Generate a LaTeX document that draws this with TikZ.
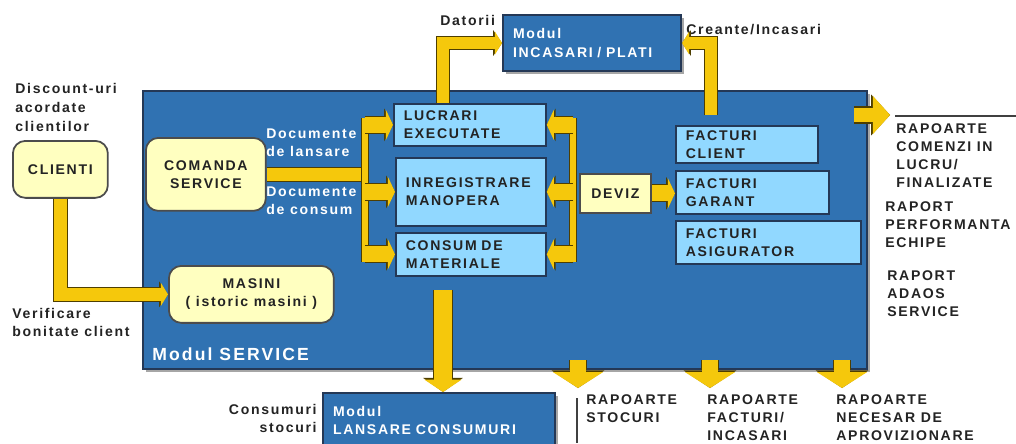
\documentclass[tikz,border=0pt]{standalone}
\usepackage{fontspec}
\setmainfont{Liberation Sans}[LetterSpace=12]
\usepackage{tikz}
\usetikzlibrary{arrows.meta,calc,shadows}

\definecolor{srvblue}{RGB}{48,114,178}
\definecolor{srvline}{RGB}{36,56,86}
\definecolor{boxblue}{RGB}{145,216,255}
\definecolor{boxyellow}{RGB}{255,255,192}
\definecolor{flowyellow}{RGB}{245,200,12}
\definecolor{flowline}{RGB}{78,62,0}
\definecolor{txtdark}{RGB}{35,35,35}

\tikzset{
  module/.style={draw=srvline, line width=1.2pt, fill=srvblue, anchor=north west,
    drop shadow={shadow xshift=1.6pt, shadow yshift=-1.6pt, opacity=1, fill=black!35}},
  modtxt/.style={text=white, align=left, inner xsep=0.2cm, inner ysep=1pt,
    font=\bfseries\fontsize{8}{10.3}\selectfont},
  lbox/.style={draw=srvline, line width=1pt, fill=boxblue, anchor=north west,
    inner xsep=0.2cm, inner ysep=1pt, align=left, text=txtdark,
    font=\bfseries\fontsize{8}{10.3}\selectfont},
  rbox/.style={draw=black!70, line width=1pt, fill=boxyellow, rounded corners=0.25cm,
    anchor=north west, align=center, text=txtdark,
    font=\bfseries\fontsize{8}{10.3}\selectfont},
  txt/.style={anchor=north west, align=left, inner sep=0pt, text=txtdark,
    font=\bfseries\fontsize{8}{10.3}\selectfont},
  wtxt/.style={txt, text=white},
  bus/.style={draw=flowyellow, line width=#1, preaction={draw=flowline, line width=#1+1.2pt}},
  flow/.style n args={5}{draw=flowyellow, line width=#1,
    -{Triangle[width=#2, length=#3, line width=0pt]},
    preaction={draw=flowline, line width=#1+1.2pt,
      -{Triangle[width=#4, length=#5, line width=0pt]}}},
  smallflow/.style={flow={9pt}{17pt}{4pt}{18.6pt}{5pt}},
  lflow/.style={flow={7pt}{13pt}{4pt}{14.6pt}{5pt}},
  bigflow/.style={flow={10.5pt}{21pt}{7pt}{22.6pt}{8pt}},
  outflow/.style={flow={8.5pt}{21.6pt}{9.7pt}{23.2pt}{10.7pt}},
  downflow/.style={flow={9pt}{28.4pt}{9pt}{30pt}{10pt}},
  sepline/.style={draw=black!75, line width=1.3pt}
}

\begin{document}
\begin{tikzpicture}[x=0.02cm, y=-0.02cm]
\useasboundingbox (0,0) rectangle (1016,443);

% modules
\node[module, minimum width=14.48cm, minimum height=5.56cm] (service) at (142,90) {};
\node[modtxt, anchor=west, font=\bfseries\fontsize{10}{12}\selectfont] (servicelbl) at (142,354) {Modul SERVICE};
\node[module, modtxt, minimum width=3.56cm, minimum height=1.12cm, text width=3.16cm] (incasari) at (502,14) {Modul\\INCASARI / PLATI};
\node[module, modtxt, minimum width=4.64cm, minimum height=1.08cm, text width=4.24cm] (lansare) at (322,392) {Modul\\LANSARE CONSUMURI};

% boxes
\node[rbox, minimum width=1.9cm, minimum height=1.14cm] (clienti) at (12,140) {CLIENTI};
\node[rbox, minimum width=2.4cm, minimum height=1.46cm] (comanda) at (145,137) {COMANDA\\SERVICE};
\node[rbox, minimum width=3.3cm, minimum height=1.14cm] (masini) at (168,265) {MASINI\\( istoric masini )};
\node[rbox, rounded corners=0pt, minimum width=1.42cm, minimum height=0.78cm] (deviz) at (579,173) {DEVIZ};
\node[lbox, minimum height=0.84cm, text width=2.64cm] (lucrari) at (393,103) {LUCRARI\\EXECUTATE};
\node[lbox, minimum height=1.36cm, text width=2.6cm] (manopera) at (395,157) {INREGISTRARE\\MANOPERA};
\node[lbox, minimum height=0.86cm, text width=2.6cm] (consum) at (395,232) {CONSUM DE\\MATERIALE};
\node[lbox, minimum height=0.74cm, text width=2.44cm] (fclient) at (675,125) {FACTURI\\CLIENT};
\node[lbox, minimum height=0.86cm, text width=2.66cm] (fgarant) at (675,170) {FACTURI\\GARANT};
\node[lbox, minimum height=0.86cm, text width=3.3cm] (fasig) at (675,220) {FACTURI\\ASIGURATOR};

% labels
\node[txt, font=\bfseries\fontsize{8}{10.8}\selectfont] (discount) at (15,83) {Discount-uri\\acordate\\clientilor};
\node[txt] (bonitate) at (12,308) {Verificare\\bonitate client};
\node[txt, anchor=north east, align=right] (consumuri) at (317,404) {Consumuri\\stocuri};
\node[txt, anchor=west] (datoriilbl) at (440,20) {Datorii};
\node[txt, anchor=west] (creantelbl) at (686,30) {Creante/Incasari};
\node[wtxt] (doclans) at (266,128) {Documente\\de lansare};
\node[wtxt] (doccons) at (266,186) {Documente\\de consum};
\node[txt] (rapcomenzi) at (896,123) {RAPOARTE\\COMENZI IN\\LUCRU/\\FINALIZATE};
\node[txt] (rapechipe) at (885,201) {RAPORT\\PERFORMANTA\\ECHIPE};
\node[txt] (rapadaos) at (887,270) {RAPORT\\ADAOS\\SERVICE};
\node[txt] (rapstoc) at (586,394) {RAPOARTE\\STOCURI};
\node[txt] (rapfact) at (707,394) {RAPOARTE\\FACTURI/\\INCASARI};
\node[txt] (rapnec) at (836,394) {RAPOARTE\\NECESAR DE\\APROVIZIONARE};
\draw[sepline] (895,116) -- (1016,116);
\draw[sepline] (577,398) -- (577,443);

% buses
\coordinate (lbtop) at (365,118);
\coordinate (lbbot) at (365,262);
\coordinate (rbtop) at (573,118);
\coordinate (rbbot) at (573,262);
\draw[bus=7pt] (comanda.east) -- (comanda.east -| lbtop);
\draw[bus=3.4pt] (lbtop) -- (lbbot);
\draw[bus=3.4pt] (rbtop) -- (rbbot);
\foreach \b in {lucrari,manopera,consum}{
  \draw[smallflow] (\b.west -| lbtop) -- (\b.west);
  \draw[smallflow] (\b.east -| rbtop) -- (\b.east);
}
\draw[smallflow] (deviz.east) -- (deviz.east -| fgarant.west);

% flows
\draw[lflow] (clienti.south) |- (masini.west);
\coordinate (datorii) at ($(lucrari.north west)+(50,0)$);
\draw[lflow] (datorii) |- (incasari.west);
\coordinate (creante) at ($(fclient.north west)+(36,-10)$);
\draw[lflow] (creante) |- (incasari.east);
\coordinate (cons) at ($(consum.south west)+(48,13)$);
\draw[bigflow] (cons) -- (cons |- lansare.north);
\coordinate (outA) at ($(service.north east)+(-14,25)$);
\coordinate (outB) at (890,115);
\draw[outflow] (outA) -- (outB);
\foreach \x/\n in {578/1,710/2,842/3}{
  \coordinate (d\n) at (\x,360);
  \coordinate (e\n) at (\x,388);
  \draw[downflow] (d\n) -- (e\n);
}
\end{tikzpicture}
\end{document}
